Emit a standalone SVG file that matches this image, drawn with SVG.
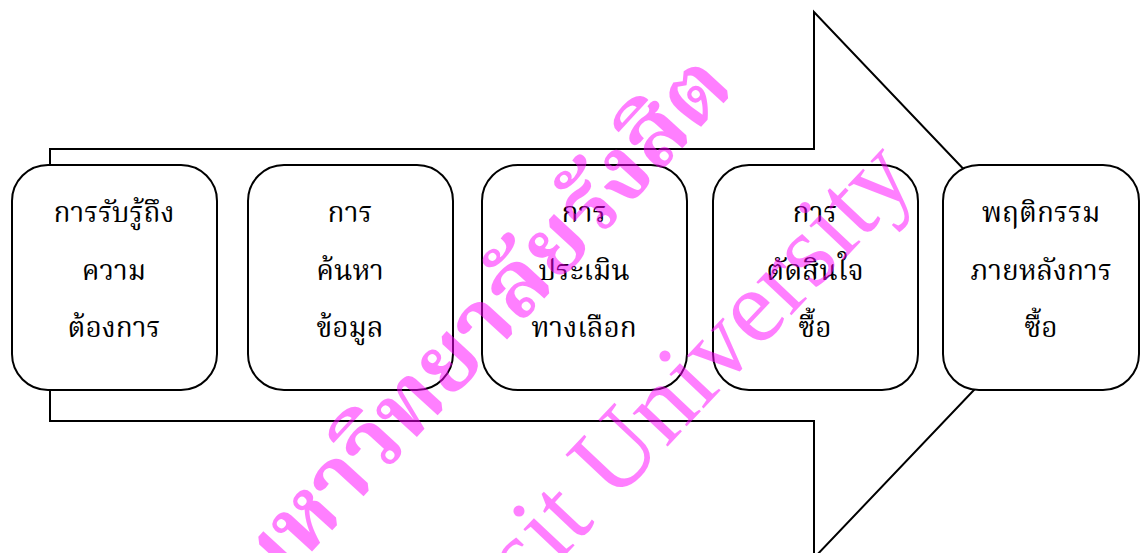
<svg xmlns="http://www.w3.org/2000/svg" width="1140" height="553" viewBox="0 0 1140 553">
<style>
.arrow{fill:#fff;stroke:#000;stroke-width:2}
.box{fill:#fff;stroke:#000;stroke-width:2}
.lbl{font-family:"Liberation Serif","Noto Serif Thai","Noto Sans Thai",serif;font-size:28px;fill:#000;text-anchor:middle}
.wm{font-family:"Liberation Serif","Noto Serif Thai",serif;fill:#ff00ff;fill-opacity:0.5}
</style>
<g id="connectors">
<path class="arrow" d="M50,149 H814 V12 L1074,285 L814,558 V421 H50 Z"/>
</g>
<g id="n1"><rect class="box" x="12" y="165" width="205" height="225" rx="36"/>
<text class="lbl" x="114" y="222">การรับรู้ถึง</text><text class="lbl" x="114" y="280">ความ</text><text class="lbl" x="114" y="337">ต้องการ</text></g>
<g id="n2"><rect class="box" x="248" y="165" width="205" height="225" rx="36"/>
<text class="lbl" x="350" y="222">การ</text><text class="lbl" x="350" y="280">ค้นหา</text><text class="lbl" x="350" y="337">ข้อมูล</text></g>
<g id="n3"><rect class="box" x="482" y="165" width="205" height="225" rx="36"/>
<text class="lbl" x="584" y="222">การ</text><text class="lbl" x="584" y="280">ประเมิน</text><text class="lbl" x="584" y="337">ทางเลือก</text></g>
<g id="n4"><rect class="box" x="713" y="165" width="205" height="225" rx="36"/>
<text class="lbl" x="815" y="222">การ</text><text class="lbl" x="815" y="280">ตัดสินใจ</text><text class="lbl" x="815" y="337">ซื้อ</text></g>
<g id="n5"><rect class="box" x="943" y="165" width="196" height="225" rx="36"/>
<text class="lbl" x="1041" y="222">พฤติกรรม</text><text class="lbl" x="1041" y="280">ภายหลังการ</text><text class="lbl" x="1041" y="337">ซื้อ</text></g>
<g id="watermark">
<text class="wm" font-size="90" font-weight="bold" transform="translate(264,604) rotate(-47.5)">มหาวิทยาลัยรังสิต</text>
<text class="wm" font-size="105" transform="translate(376,756) rotate(-46.7)">Rangsit University</text>
</g>
</svg>
